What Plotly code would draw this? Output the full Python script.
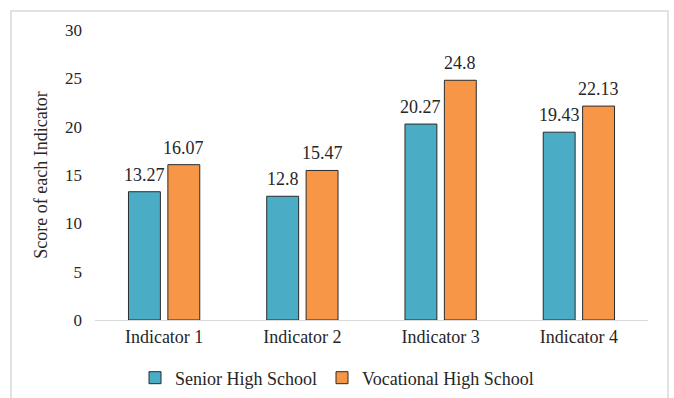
import plotly.graph_objects as go

categories = ["Indicator 1", "Indicator 2", "Indicator 3", "Indicator 4"]
senior = [13.27, 12.8, 20.27, 19.43]
vocational = [16.07, 15.47, 24.8, 22.13]
tick_vals = [0, 5, 10, 15, 20, 25, 30]

FONT = "Liberation Serif"
TXT = "#262626"

fig = go.Figure()
fig.add_trace(go.Bar(
    name="Senior High School", x=categories, y=senior,
    marker=dict(color="#4BACC6", line=dict(color="#2b2b2b", width=1)),
))
fig.add_trace(go.Bar(
    name="Vocational High School", x=categories, y=vocational,
    marker=dict(color="#F79646", line=dict(color="#2b2b2b", width=1)),
))

L, R, T, B = 95, 26, 30, 78
W, H = 674, 398
pw, ph = W - L - R, H - T - B

annotations = []
for series, shift in ((senior, -19.75), (vocational, 19.75)):
    for c, v in zip(categories, series):
        annotations.append(dict(x=c, y=v, xref="x", yref="y", text=str(v),
                                showarrow=False, xshift=shift, yanchor="bottom",
                                yshift=5, font=dict(family=FONT, size=18, color=TXT)))

fig.update_layout(
    width=W, height=H,
    margin=dict(l=L, r=R, t=T, b=B, autoexpand=False),
    paper_bgcolor="white", plot_bgcolor="white",
    barmode="group", bargap=0.43, bargroupgap=0.19,
    font=dict(family=FONT, size=18, color=TXT),
    showlegend=True,
    legend=dict(orientation="h", x=0.5, xanchor="center", xref="container",
                y=1 - 378 / H, yref="container",
                yanchor="middle", font=dict(family=FONT, size=18, color=TXT),
                itemwidth=30, traceorder="normal"),
    xaxis=dict(showline=True, linecolor="#d9d9d9", linewidth=1, ticks="",
               tickfont=dict(family=FONT, size=18, color=TXT), showgrid=False),
    yaxis=dict(range=[0, 30], tickvals=tick_vals, showgrid=False, zeroline=False,
               showline=False, ticks="", ticklabelstandoff=12,
               tickfont=dict(family=FONT, size=17, color=TXT),
               title=dict(text="Score of each Indicator", standoff=12,
                          font=dict(family=FONT, size=18, color=TXT))),
    annotations=annotations,
    shapes=[dict(type="rect", xref="paper", yref="paper",
                 x0=(11 - L) / pw, x1=(668 - L) / pw,
                 y0=(T + ph - 402) / ph, y1=(T + ph - 11) / ph,
                 line=dict(color="#d9d9d9", width=1.5), fillcolor="rgba(0,0,0,0)",
                 layer="below")],
)

fig.write_html("out.html")
